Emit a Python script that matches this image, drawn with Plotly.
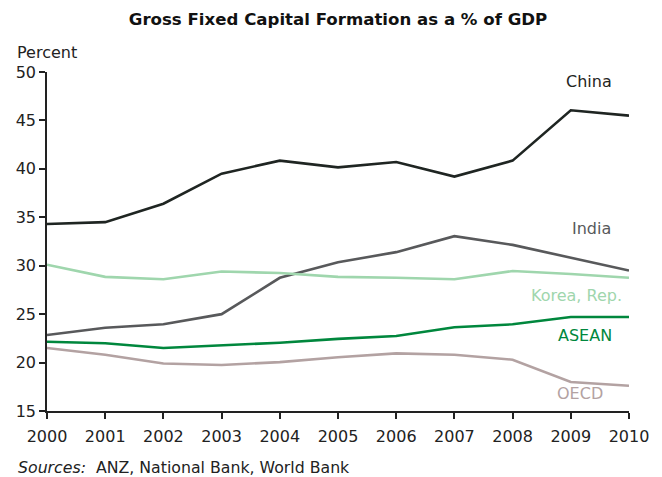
import plotly.graph_objects as go

years = [2000, 2001, 2002, 2003, 2004, 2005, 2006, 2007, 2008, 2009, 2010]

china = [34.3, 34.5, 36.4, 39.5, 40.85, 40.15, 40.7, 39.2, 40.85, 46.05, 45.5]
india = [22.85, 23.6, 23.95, 25.0, 28.75, 30.35, 31.4, 33.05, 32.15, 30.85, 29.5]
korea = [30.1, 28.85, 28.6, 29.4, 29.25, 28.85, 28.75, 28.6, 29.45, 29.15, 28.75]
asean = [22.15, 22.0, 21.5, 21.75, 22.05, 22.45, 22.75, 23.65, 23.95, 24.7, 24.7]
oecd = [21.5, 20.8, 19.9, 19.75, 20.05, 20.55, 20.95, 20.8, 20.3, 18.0, 17.6]

series = [
    ("China", china, "#1f2522"),
    ("India", india, "#58595b"),
    ("Korea, Rep.", korea, "#9fd6ad"),
    ("ASEAN", asean, "#00873d"),
    ("OECD", oecd, "#b3a2a2"),
]

# label anchor points (year, value) for the inline series labels
label_pos = {
    "China": (2009.31, 49.07),
    "India": (2009.36, 33.86),
    "Korea, Rep.": (2009.09, 26.95),
    "ASEAN": (2009.24, 22.82),
    "OECD": (2009.15, 16.83),
}

FONT = "DejaVu Sans"

fig = go.Figure()
for name, vals, color in series:
    fig.add_trace(go.Scatter(
        x=years, y=vals, mode="lines", name=name,
        line=dict(color=color, width=2.6), showlegend=False,
    ))
    lx, ly = label_pos[name]
    fig.add_annotation(
        x=lx, y=ly, xref="x", yref="y", text=name, showarrow=False,
        font=dict(family=FONT, size=16, color=color),
        xanchor="center", yanchor="middle",
    )

fig.add_annotation(
    x=-0.0548, y=1.058, xref="paper", yref="paper", text="Percent",
    showarrow=False, xanchor="left", yanchor="middle",
    font=dict(family=FONT, size=16, color="#222222"),
)
fig.add_annotation(
    x=-0.0527, y=-0.168, xref="paper", yref="paper",
    text="<i>Sources:</i>  ANZ, National Bank, World Bank",
    showarrow=False, xanchor="left", yanchor="middle",
    font=dict(family=FONT, size=15.75, color="#222222"),
)

fig.update_layout(
    width=662, height=477,
    margin=dict(l=47, r=33, t=72, b=66),
    paper_bgcolor="white", plot_bgcolor="white",
    title=dict(
        text="<b>Gross Fixed Capital Formation as a % of GDP</b>",
        x=0.5, xref="paper", xanchor="center",
        y=1 - 19 / 477, yref="container", yanchor="middle",
        font=dict(family=FONT, size=16.6, color="#111111"),
    ),
    xaxis=dict(
        range=[2000, 2010], tickmode="array", tickvals=years,
        ticktext=[str(y) for y in years],
        showgrid=False, zeroline=False, showline=True,
        linecolor="#222222", linewidth=1.5,
        ticks="outside", ticklen=6, tickwidth=1.5, tickcolor="#222222",
        ticklabelstandoff=4,
        tickfont=dict(family=FONT, size=16, color="#222222"),
    ),
    yaxis=dict(
        range=[15, 50], tickmode="array", tickvals=[15, 20, 25, 30, 35, 40, 45, 50],
        showgrid=False, zeroline=False, showline=True,
        linecolor="#222222", linewidth=1.5,
        ticks="outside", ticklen=6, tickwidth=1.5, tickcolor="#222222",
        tickfont=dict(family=FONT, size=16, color="#222222"),
    ),
)

fig.write_html("out.html")
